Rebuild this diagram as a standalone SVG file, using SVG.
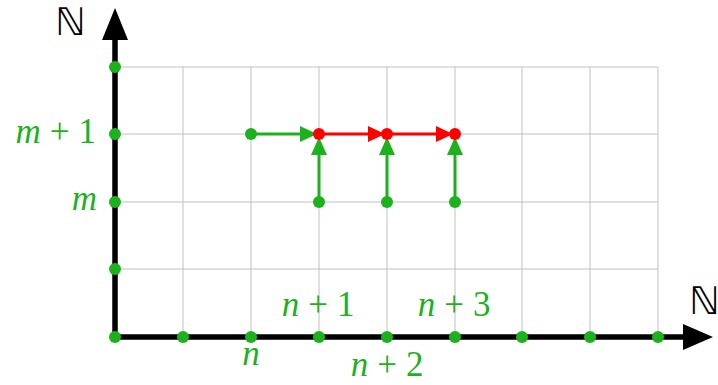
<svg xmlns="http://www.w3.org/2000/svg" width="718" height="385" viewBox="0 0 718 385">
<style>
.grid{stroke:#c0c0c0;stroke-width:1;fill:none}
.axis{stroke:#000;stroke-width:5.5;fill:none}
.g{fill:#1db11d}
.r{fill:#ff0000}
.ga{stroke:#1db11d;stroke-width:3;fill:none}
.ra{stroke:#ff0000;stroke-width:3;fill:none}
.lbl{font-family:"Liberation Serif",serif;font-size:35px;fill:#1db11d}
.lbl .i{font-style:italic}
.nn{font-family:"DejaVu Sans",sans-serif;font-size:38px;fill:#000}
</style>
<rect width="718" height="385" fill="#fff"/>
<g id="grid">
<path class="grid" d="M115,67H658M115,134H658M115,202H658M115,269H658M183,67V337M251,67V337M319,67V337M387,67V337M455,67V337M522,67V337M590,67V337M658,67V337"/>
</g>
<g id="axes">
<path class="axis" d="M115,337V38M112,337H686"/>
<polygon points="115,8 102,40 128,40" fill="#000"/>
<polygon points="713,337 683,324 683,350" fill="#000"/>
<text class="nn" x="55" y="35">ℕ</text>
<text class="nn" x="689" y="314">ℕ</text>
</g>
<g id="connectors">
<path class="ga" d="M251,134H302"/>
<polygon class="g" points="317,134 300,126 300,142"/>
<path class="ra" d="M319,134H370"/>
<polygon class="r" points="385,134 368,126 368,142"/>
<path class="ra" d="M387,134H438"/>
<polygon class="r" points="453,134 436,126 436,142"/>
<path class="ga" d="M319,202V153"/>
<polygon class="g" points="319,137 311,155 327,155"/>
<path class="ga" d="M387,202V153"/>
<polygon class="g" points="387,137 379,155 395,155"/>
<path class="ga" d="M455,202V153"/>
<polygon class="g" points="455,137 447,155 463,155"/>
</g>
<g id="dots">
<circle class="g" cx="115" cy="67" r="6"/>
<circle class="g" cx="115" cy="134" r="6"/>
<circle class="g" cx="115" cy="202" r="6"/>
<circle class="g" cx="115" cy="269" r="6"/>
<circle class="g" cx="115" cy="337" r="6"/>
<circle class="g" cx="183" cy="337" r="6"/>
<circle class="g" cx="251" cy="337" r="6"/>
<circle class="g" cx="319" cy="337" r="6"/>
<circle class="g" cx="387" cy="337" r="6"/>
<circle class="g" cx="455" cy="337" r="6"/>
<circle class="g" cx="522" cy="337" r="6"/>
<circle class="g" cx="590" cy="337" r="6"/>
<circle class="g" cx="658" cy="337" r="6"/>
<circle class="g" cx="251" cy="134" r="6"/>
<circle class="g" cx="319" cy="202" r="6"/>
<circle class="g" cx="387" cy="202" r="6"/>
<circle class="g" cx="455" cy="202" r="6"/>
<circle class="r" cx="319" cy="134" r="6"/>
<circle class="r" cx="387" cy="134" r="6"/>
<circle class="r" cx="455" cy="134" r="6"/>
</g>
<g id="labels">
<text class="lbl" x="96" y="143" text-anchor="end"><tspan class="i">m</tspan><tspan dx="9">+</tspan><tspan dx="9">1</tspan></text>
<text class="lbl" x="97" y="210" text-anchor="end"><tspan class="i">m</tspan></text>
<text class="lbl" x="251" y="365" text-anchor="middle"><tspan class="i">n</tspan></text>
<text class="lbl" x="318" y="316" text-anchor="middle"><tspan class="i">n</tspan><tspan dx="9">+</tspan><tspan dx="9">1</tspan></text>
<text class="lbl" x="387" y="376" text-anchor="middle"><tspan class="i">n</tspan><tspan dx="9">+</tspan><tspan dx="9">2</tspan></text>
<text class="lbl" x="454" y="316" text-anchor="middle"><tspan class="i">n</tspan><tspan dx="9">+</tspan><tspan dx="9">3</tspan></text>
</g>
</svg>
